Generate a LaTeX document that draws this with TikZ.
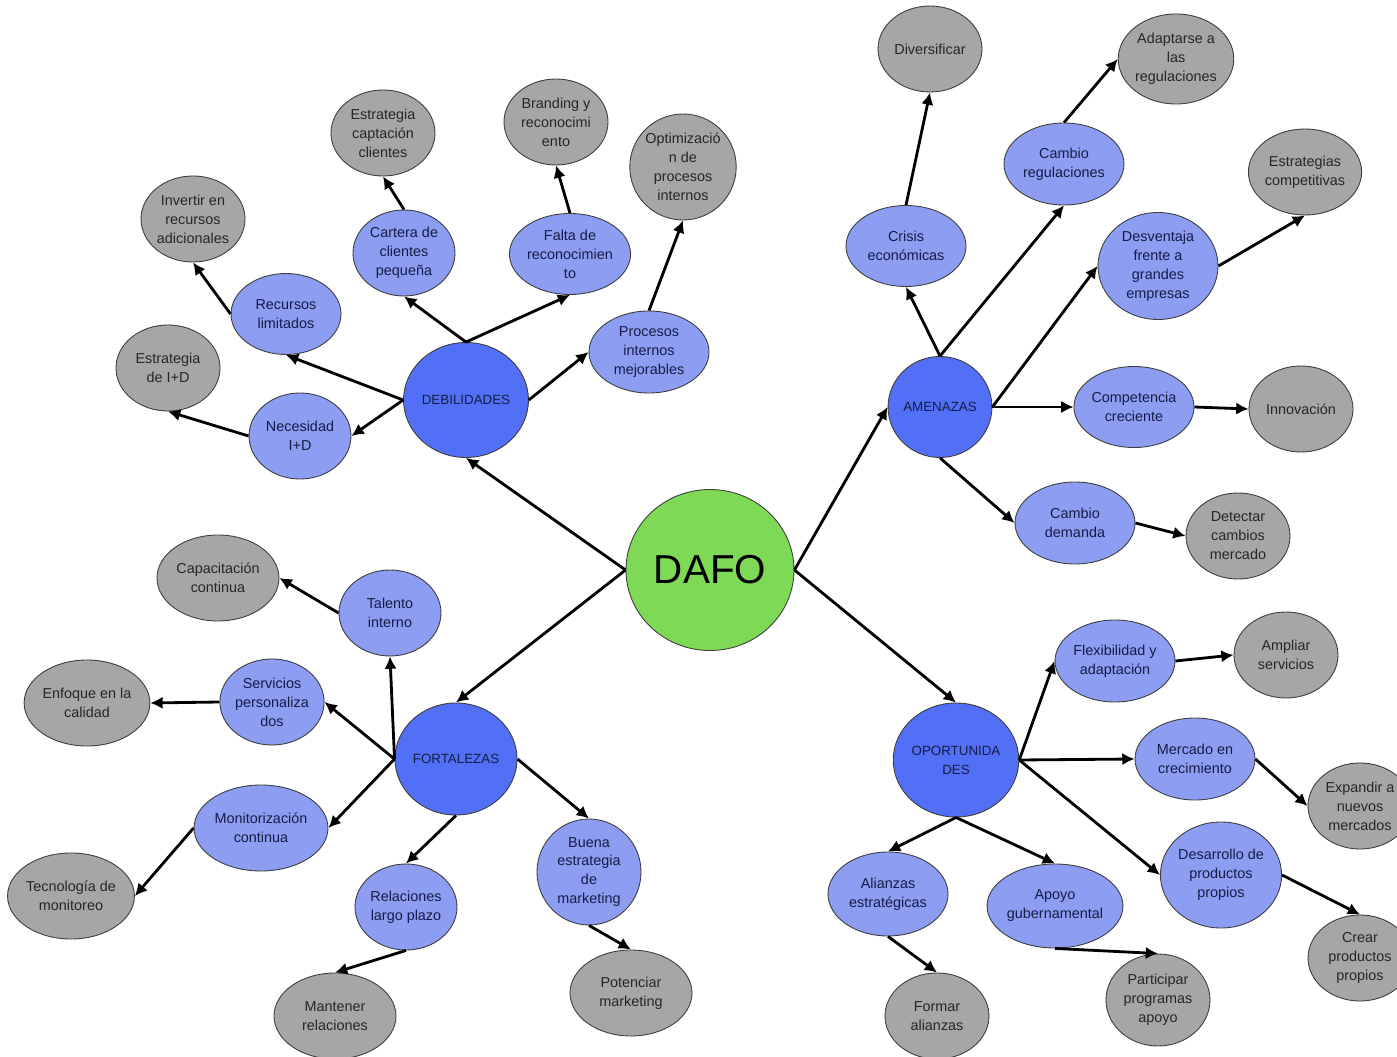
\documentclass[tikz,border=0pt]{standalone}
\usepackage{fontspec}
\setmainfont{Liberation Sans}
\usetikzlibrary{shapes.geometric,arrows.meta}
\definecolor{cgreen}{RGB}{126,217,87}
\definecolor{cmain}{RGB}{82,112,245}
\definecolor{csec}{RGB}{140,157,242}
\definecolor{cgray}{RGB}{166,166,166}
\definecolor{cnavy}{RGB}{22,28,70}
\definecolor{cedge}{RGB}{60,60,60}
\tikzset{
  bub/.style={ellipse, draw=cedge, line width=0.5pt, inner sep=0pt, align=center,
    font=\fontsize{8.2}{10.8}\selectfont},
  sz/.style 2 args={minimum width=#1*0.02cm, minimum height=#2*0.02cm},
  hub/.style={bub, fill=cmain, text=cnavy, font=\fontsize{7.6}{10.8}\selectfont},
  sec/.style={bub, fill=csec, text=cnavy},
  gry/.style={bub, fill=cgray, text=black!85},
  arr/.style={line width=1.6pt, -{Latex[length=7pt,width=7pt]}}
}
\begin{document}
\begin{tikzpicture}[x=0.02cm,y=-0.02cm]
\useasboundingbox (0,0) rectangle (1397,1057);
% center
\node[bub, fill=cgreen, sz={168}{161}, font=\fontsize{23}{26}\selectfont] (dafo) at (710,570) {DAFO};
% hubs
\node[hub, sz={117}{115}] (deb) at (466,400) {DEBILIDADES};
\node[hub, sz={102}{101}] (ame) at (940,407) {AMENAZAS};
\node[hub, sz={118}{112}] (fort) at (456,759) {FORTALEZAS};
\node[hub, sz={118}{114}] (opo) at (956,760) {OPORTUNIDA\\DES};
% debilidades
\node[sec, sz={110}{81}] (rec) at (286,314) {Recursos\\limitados};
\node[sec, sz={102}{86}] (nec) at (300,436) {Necesidad\\I+D};
\node[sec, sz={102}{86}] (car) at (404,253) {Cartera de\\clientes\\pequeña};
\node[sec, sz={120}{81}] (fal) at (570,254) {Falta de\\reconocimien\\to};
\node[sec, sz={120}{82}] (pro) at (649,352) {Procesos\\internos\\mejorables};
\node[gry, sz={104}{86}] (ecap) at (383,133) {Estrategia\\captación\\clientes};
\node[gry, sz={104}{86}] (bra) at (556,122) {Branding y\\reconocimi\\ento};
\node[gry, sz={104}{106}] (opt) at (683,167) {Optimizació\\n de\\procesos\\internos};
\node[gry, sz={104}{86}] (inv) at (193,219) {Invertir en\\recursos\\adicionales};
\node[gry, sz={104}{86}] (eid) at (168,368) {Estrategia\\de I+D};
% amenazas
\node[sec, sz={120}{81}] (cri) at (906,246) {Crisis\\económicas};
\node[sec, sz={120}{82}] (creg) at (1064,164) {Cambio\\regulaciones};
\node[sec, sz={120}{107}] (des) at (1158,266) {Desventaja\\frente a\\grandes\\empresas};
\node[sec, sz={120}{81}] (com) at (1134,407) {Competencia\\creciente};
\node[sec, sz={120}{82}] (cdem) at (1075,523) {Cambio\\demanda};
\node[gry, sz={104}{86}] (div) at (930,49) {Diversificar};
\node[gry, sz={114}{90}] (ada) at (1176,59) {Adaptarse a\\las\\regulaciones};
\node[gry, sz={112}{86}] (ecom) at (1305,172) {Estrategias\\competitivas};
\node[gry, sz={104}{86}] (inn) at (1301,409) {Innovación};
\node[gry, sz={104}{86}] (det) at (1238,536) {Detectar\\cambios\\mercado};
% fortalezas
\node[sec, sz={102}{86}] (tal) at (390,613) {Talento\\interno};
\node[sec, sz={102}{86}] (ser) at (272,702) {Servicios\\personaliza\\dos};
\node[sec, sz={134}{86}] (mon) at (261,828) {Monitorización\\continua};
\node[sec, sz={102}{86}] (rel) at (406,907) {Relaciones\\largo plazo};
\node[sec, sz={104}{106}] (bue) at (589,872) {Buena\\estrategia\\de\\marketing};
\node[gry, sz={122}{86}] (cap) at (218,578) {Capacitación\\continua};
\node[gry, sz={122}{86}] (enf) at (87,703) {Enfoque en la\\calidad};
\node[gry, sz={122}{86}] (tec) at (71,896) {Tecnología de\\monitoreo};
\node[gry, sz={122}{86}] (man) at (335,1016) {Mantener\\relaciones};
\node[gry, sz={122}{86}] (pot) at (631,993) {Potenciar\\marketing};
% oportunidades
\node[sec, sz={120}{82}] (fle) at (1115,661) {Flexibilidad y\\adaptación};
\node[sec, sz={120}{82}] (mer) at (1195,759) {Mercado en\\crecimiento};
\node[sec, sz={120}{106}] (dpp) at (1221,875) {Desarrollo de\\productos\\propios};
\node[sec, sz={120}{84}] (ali) at (888,894) {Alianzas\\estratégicas};
\node[sec, sz={132}{84}] (apo) at (1055,906) {Apoyo\\gubernamental};
\node[gry, sz={104}{86}] (amp) at (1286,655) {Ampliar\\servicios};
\node[gry, sz={104}{86}] (exp) at (1360,806) {Expandir a\\nuevos\\mercados};
\node[gry, sz={104}{86}] (cre) at (1360,958) {Crear\\productos\\propios};
\node[gry, sz={104}{92}] (par) at (1158,1000) {Participar\\programas\\apoyo};
\node[gry, sz={104}{86}] (for) at (937,1016) {Formar\\alianzas};
% edges: center
\draw[arr] (dafo.west) -- (deb.south);
\draw[arr] (dafo.east) -- (ame.west);
\draw[arr] (dafo.west) -- (fort.north);
\draw[arr] (dafo.east) -- (opo.north);
% debilidades
\draw[arr] (deb.north) -- (car.south);
\draw[arr] (deb.north) -- (fal.south);
\draw[arr] (deb.east) -- (pro.west);
\draw[arr] (deb.west) -- (rec.south);
\draw[arr] (deb.west) -- (nec.east);
\draw[arr] (rec.west) -- (inv.south);
\draw[arr] (nec.west) -- (eid.south);
\draw[arr] (car.north) -- (ecap.south);
\draw[arr] (fal.north) -- (bra.south);
\draw[arr] (pro.north) -- (opt.south);
% amenazas
\draw[arr] (ame.north) -- (cri.south);
\draw[arr] (ame.north) -- (creg.south);
\draw[arr] (ame.east) -- (des.west);
\draw[arr] (ame.east) -- (com.west);
\draw[arr] (ame.south) -- (cdem.west);
\draw[arr] (cri.north) -- (div.south);
\draw[arr] (creg.north) -- (ada.west);
\draw[arr] (des.east) -- (ecom.south);
\draw[arr] (com.east) -- (inn.west);
\draw[arr] (cdem.east) -- (det.west);
% fortalezas
\draw[arr] (fort.west) -- (tal.south);
\draw[arr] (fort.west) -- (ser.east);
\draw[arr] (fort.west) -- (mon.east);
\draw[arr] (fort.south) -- (rel.north);
\draw[arr] (fort.east) -- (bue.north);
\draw[arr] (tal.west) -- (cap.east);
\draw[arr] (ser.west) -- (enf.east);
\draw[arr] (mon.west) -- (tec.east);
\draw[arr] (rel.south) -- (man.north);
\draw[arr] (bue.south) -- (pot.north);
% oportunidades
\draw[arr] (opo.east) -- (fle.west);
\draw[arr] (opo.east) -- (mer.west);
\draw[arr] (opo.east) -- (dpp.west);
\draw[arr] (opo.south) -- (ali.north);
\draw[arr] (opo.south) -- (apo.north);
\draw[arr] (fle.east) -- (amp.west);
\draw[arr] (mer.east) -- (exp.west);
\draw[arr] (dpp.east) -- (cre.north);
\draw[arr] (ali.south) -- (for.north);
\draw[arr] (apo.south) -- (par.north);
\end{tikzpicture}
\end{document}
